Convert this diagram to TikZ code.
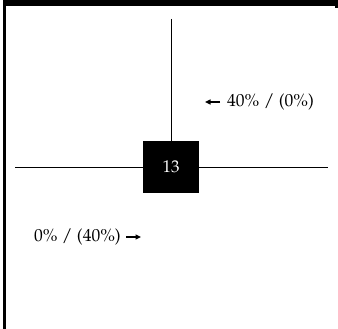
\documentclass[tikz,border=0pt]{standalone}
\usepackage[T1]{fontenc}
\usepackage{mathpazo}
\usetikzlibrary{arrows.meta}

\tikzset{
  share/.style={font=\fontsize{17.5}{20}\selectfont, inner sep=0pt},
  flow/.style={-{Triangle[length=5.5pt,width=5pt]}, line width=1.4pt},
  hub/.style={fill=black, text=white, minimum width=56pt, minimum height=52pt,
    inner sep=0pt, font=\fontsize{17}{19}\selectfont}
}

\begin{document}
\begin{tikzpicture}[x=1pt,y=-1pt]

\useasboundingbox (0,0) rectangle (338,329);

% frame
\fill (3,0) rectangle (338,6);
\fill (335,0) rectangle (338,8);
\fill (3,0) rectangle (6,329);

% centre box and axes
\node[hub] (hub) at (171,167) {13};
\coordinate (top) at (171,19);
\coordinate (left) at (15,167);
\coordinate (right) at (328,167);
\draw[line width=0.9pt] (top) -- (hub.north);
\draw[line width=0.9pt] (left) -- (hub.west);
\draw[line width=0.9pt] (hub.east) -- (right);

% shares
\node[share, anchor=west] (up) at (227,102) {40\% / (0\%)};
\coordinate (upa) at (220,102);
\coordinate (upb) at (205,102);
\draw[flow] (upa) -- (upb);

\node[share, anchor=east] (down) at (121,237) {0\% / (40\%)};
\coordinate (downa) at (126,237);
\coordinate (downb) at (141,237);
\draw[flow] (downa) -- (downb);

\end{tikzpicture}
\end{document}
